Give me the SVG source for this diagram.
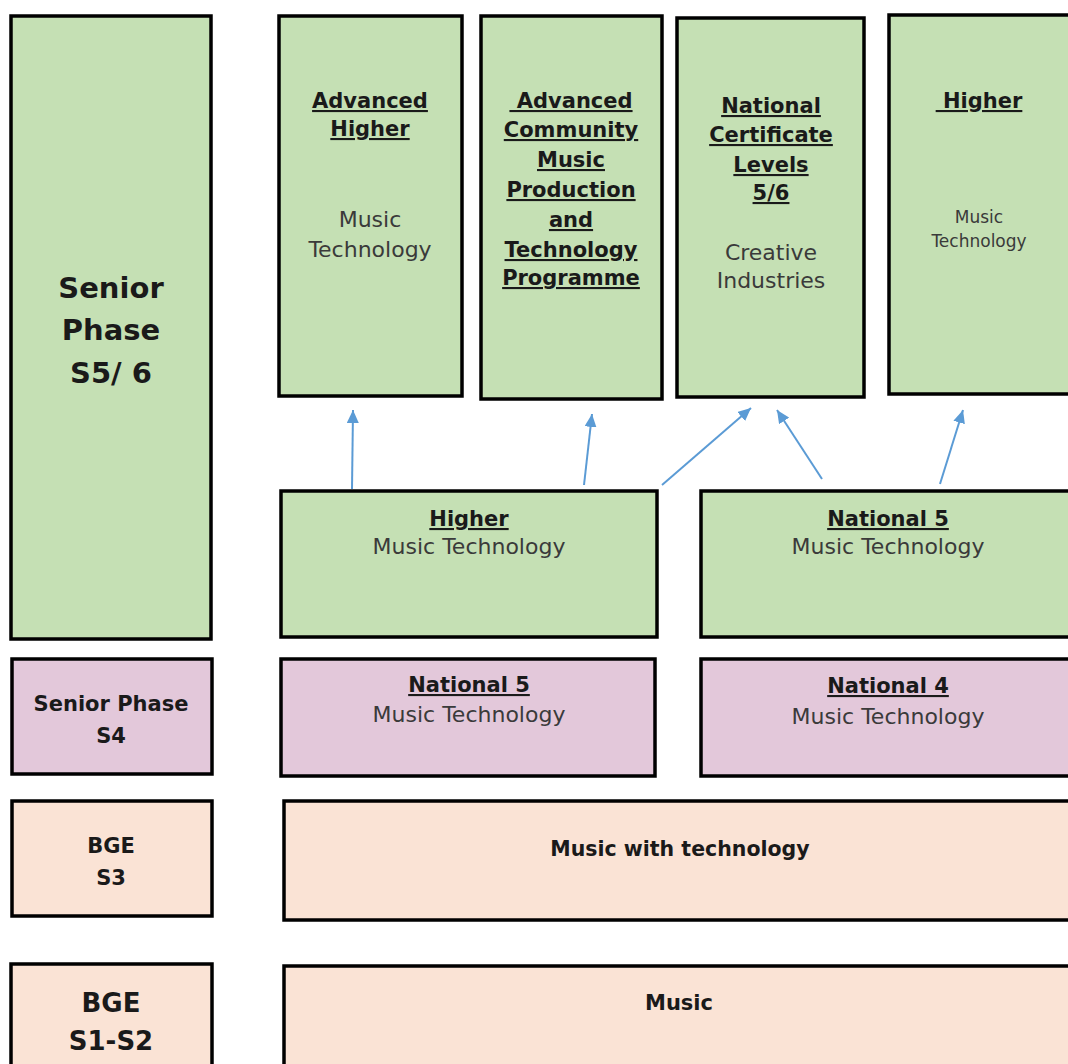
<svg xmlns="http://www.w3.org/2000/svg" width="1068" height="1064" viewBox="0 0 1068 1064">
<style>
.box{stroke:#000;stroke-width:3.5}
.g{fill:#C5E0B4}
.p{fill:#E3C8DA}
.o{fill:#FAE3D5}
text{font-family:"DejaVu Sans","Liberation Sans",sans-serif;text-anchor:middle}
.b{font-weight:bold;fill:#1a1a1a}
.u{text-decoration:underline}
.n{fill:#3a3a3a;font-size:22px}
.con{stroke:#5B9BD5;stroke-width:2;fill:none}
</style>
<defs>
<marker id="ah" markerUnits="userSpaceOnUse" markerWidth="13" markerHeight="12" refX="13" refY="6" orient="auto">
<path d="M0,0 L13,6 L0,12 z" fill="#5B9BD5"/>
</marker>
</defs>
<rect width="1068" height="1064" fill="#fff"/>
<g id="senior-s56">
<rect class="box g" x="11" y="16" width="200" height="623"/>
<text class="b" font-size="29" x="111" y="298">Senior</text>
<text class="b" font-size="29" x="111" y="340">Phase</text>
<text class="b" font-size="29" x="111" y="383">S5/ 6</text>
</g>
<g id="adv-higher">
<rect class="box g" x="279" y="16" width="183" height="380"/>
<text class="b u" font-size="21" x="370" y="108">Advanced</text>
<text class="b u" font-size="21" x="370" y="136">Higher</text>
<text class="n" x="370" y="227">Music</text>
<text class="n" x="370" y="257">Technology</text>
</g>
<g id="adv-community">
<rect class="box g" x="481" y="16" width="181" height="383"/>
<text class="b u" font-size="21" x="571" y="108" style="white-space:pre"> Advanced</text>
<text class="b u" font-size="21" x="571" y="137">Community</text>
<text class="b u" font-size="21" x="571" y="167">Music</text>
<text class="b u" font-size="21" x="571" y="197">Production</text>
<text class="b u" font-size="21" x="571" y="227">and</text>
<text class="b u" font-size="21" x="571" y="257">Technology</text>
<text class="b u" font-size="21" x="571" y="285">Programme</text>
</g>
<g id="nat-cert">
<rect class="box g" x="677" y="18" width="187" height="379"/>
<text class="b u" font-size="21" x="771" y="113">National</text>
<text class="b u" font-size="21" x="771" y="142">Certificate</text>
<text class="b u" font-size="21" x="771" y="172">Levels</text>
<text class="b u" font-size="21" x="771" y="200">5/6</text>
<text class="n" x="771" y="260">Creative</text>
<text class="n" x="771" y="288">Industries</text>
</g>
<g id="higher-top">
<rect class="box g" x="889" y="15" width="185" height="379"/>
<text class="b u" font-size="21" x="979" y="108" style="white-space:pre"> Higher</text>
<text class="n" style="font-size:17px" x="979" y="223">Music</text>
<text class="n" style="font-size:17px" x="979" y="247">Technology</text>
</g>
<g id="higher-mid">
<rect class="box g" x="281" y="491" width="376" height="146"/>
<text class="b u" font-size="21" x="469" y="526">Higher</text>
<text class="n" x="469" y="554">Music Technology</text>
</g>
<g id="nat5-mid">
<rect class="box g" x="701" y="491" width="373" height="146"/>
<text class="b u" font-size="21" x="888" y="526">National 5</text>
<text class="n" x="888" y="554">Music Technology</text>
</g>
<g id="senior-s4">
<rect class="box p" x="12" y="659" width="200" height="115"/>
<text class="b" font-size="21" x="111" y="711">Senior Phase</text>
<text class="b" font-size="21" x="111" y="743">S4</text>
</g>
<g id="nat5-purple">
<rect class="box p" x="281" y="659" width="374" height="117"/>
<text class="b u" font-size="21" x="469" y="692">National 5</text>
<text class="n" x="469" y="722">Music Technology</text>
</g>
<g id="nat4-purple">
<rect class="box p" x="701" y="659" width="373" height="117"/>
<text class="b u" font-size="21" x="888" y="693">National 4</text>
<text class="n" x="888" y="724">Music Technology</text>
</g>
<g id="bge-s3">
<rect class="box o" x="12" y="801" width="200" height="115"/>
<text class="b" font-size="21" x="111" y="853">BGE</text>
<text class="b" font-size="21" x="111" y="885">S3</text>
</g>
<g id="music-with-tech">
<rect class="box o" x="284" y="801" width="790" height="119"/>
<text class="b" font-size="20.5" x="680" y="856">Music with technology</text>
</g>
<g id="bge-s1s2">
<rect class="box o" x="11" y="964" width="201" height="110"/>
<text class="b" font-size="26" x="111" y="1012">BGE</text>
<text class="b" font-size="26" x="111" y="1050">S1-S2</text>
</g>
<g id="music">
<rect class="box o" x="284" y="966" width="790" height="110"/>
<text class="b" font-size="21" x="679" y="1010">Music</text>
</g>
<g id="connectors">
<line class="con" x1="352" y1="489" x2="353" y2="410" marker-end="url(#ah)"/>
<line class="con" x1="584" y1="485" x2="592" y2="414" marker-end="url(#ah)"/>
<line class="con" x1="662" y1="485" x2="751" y2="408" marker-end="url(#ah)"/>
<line class="con" x1="822" y1="479" x2="777" y2="410" marker-end="url(#ah)"/>
<line class="con" x1="940" y1="484" x2="963" y2="410" marker-end="url(#ah)"/>
</g>
</svg>
